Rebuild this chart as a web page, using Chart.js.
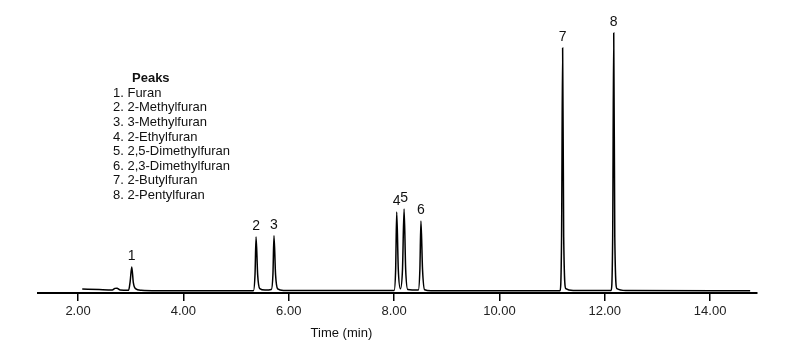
<!DOCTYPE html>
<html>
<head>
<meta charset="utf-8">
<script src="https://cdn.jsdelivr.net/npm/chart.js@4.4.0/dist/chart.umd.min.js"></script>
<style>
  html, body { margin: 0; padding: 0; background: #fff; }
  #wrap { width: 796px; height: 360px; }
</style>
</head>
<body>
<div id="wrap"><canvas id="chrom"></canvas></div>
<script>
// retention time (min) and detector signal
var times = [2.08, 2.40, 2.65, 2.70, 2.74, 2.80, 2.96, 2.99, 3.02, 3.05, 3.09, 3.20, 3.50,
             5.33, 5.36, 5.38, 5.41, 5.45, 5.55, 5.67, 5.70, 5.72, 5.75, 5.79, 5.90,
             8.00, 8.03, 8.05, 8.08, 8.12, 8.16, 8.19, 8.22, 8.26, 8.46, 8.49, 8.51, 8.54, 8.58, 8.70,
             11.15, 11.18, 11.20, 11.22, 11.26, 11.40,
             12.12, 12.15, 12.17, 12.19, 12.23, 12.40, 14.76];
var signal = [0.7, 0.45, 0.3, 0.9, 1.0, 0.3, 0.2, 3.5, 8.8, 3.0, 0.8, 0.2, 0.05,
              0.05, 6, 19.9, 6, 0.8, 0.3, 0.5, 6, 20.3, 6, 0.7, 0.1,
              0.1, 8, 29.1, 8, 0.8, 8, 30.2, 8, 0.5, 0.3, 8, 25.8, 8, 0.4, 0.05,
              0.05, 20, 89.7, 20, 0.8, 0.1,
              0.1, 20, 95.2, 20, 0.8, 0.1, 0.0];

// peak apexes and their numbers
var peakTimes = [3.02, 5.38, 5.72, 8.05, 8.19, 8.51, 11.20, 12.17];
var peakHeights = [8.8, 19.9, 20.3, 29.1, 30.2, 25.8, 89.7, 95.2];
var peakNums = ["1", "2", "3", "4", "5", "6", "7", "8"];

var peakNames = ["1. Furan", "2. 2-Methylfuran", "3. 3-Methylfuran", "4. 2-Ethylfuran",
                 "5. 2,5-Dimethylfuran", "6. 2,3-Dimethylfuran", "7. 2-Butylfuran", "8. 2-Pentylfuran"];
var tickValues = [2, 4, 6, 8, 10, 12, 14];

var FONT = "'Liberation Sans', Arial, Helvetica, sans-serif";

var pts = [];
for (var i = 0; i < times.length; i++) pts.push({x: times[i], y: signal[i]});

var labelsPlugin = {
    id: "peakLabels",
    afterDraw: function(chart){
        var ctx = chart.ctx, xs = chart.scales.x, ys = chart.scales.y;
        ctx.save();
        ctx.fillStyle = "#111";
        ctx.font = "14px " + FONT;
        ctx.textAlign = "center";
        ctx.textBaseline = "bottom";
        for (var i = 0; i < peakTimes.length; i++) {
            ctx.fillText(peakNums[i], xs.getPixelForValue(peakTimes[i]), ys.getPixelForValue(peakHeights[i]) - 4);
        }
        // legend of peaks
        ctx.textAlign = "left";
        ctx.textBaseline = "middle";
        ctx.font = "bold 13px " + FONT;
        ctx.fillText("Peaks", 132, 78);
        ctx.font = "13px " + FONT;
        for (var j = 0; j < peakNames.length; j++) {
            ctx.fillText(peakNames[j], 113, 93.3 + j * 14.6);
        }
        // axis title
        ctx.textAlign = "center";
        ctx.fillText("Time (min)", xs.getPixelForValue(7.0), 333);
        ctx.restore();
    }
};

new Chart(document.getElementById("chrom").getContext("2d"), {
    type: "line",
    data: {
        datasets: [{
            data: pts,
            borderColor: "#000",
            borderWidth: 1.5,
            pointRadius: 0,
            cubicInterpolationMode: "monotone",
            fill: false
        }]
    },
    options: {
        responsive: true,
        maintainAspectRatio: false,
        animation: false,
        layout: { padding: { left: 38, right: 39, top: 20, bottom: 0 } },
        plugins: { legend: { display: false }, tooltip: { enabled: false } },
        scales: {
            x: {
                type: "linear",
                min: 1.24,
                max: 14.89,
                afterBuildTicks: function(scale){
                    scale.ticks = tickValues.map(function(v){ return {value: v}; });
                },
                afterFit: function(scale){ scale.height = 67; },
                border: { display: true, color: "#000", width: 2 },
                grid: { drawOnChartArea: false, drawTicks: true, tickLength: 8, color: "#000", lineWidth: 1.5 },
                ticks: {
                    color: "#222",
                    padding: 3,
                    maxRotation: 0,
                    font: { family: FONT, size: 13 },
                    callback: function(v){ return Number(v).toFixed(2); }
                },
                title: { display: false }
            },
            y: {
                display: false,
                min: -0.8,
                max: 100
            }
        }
    },
    plugins: [labelsPlugin]
});
</script>
</body>
</html>
